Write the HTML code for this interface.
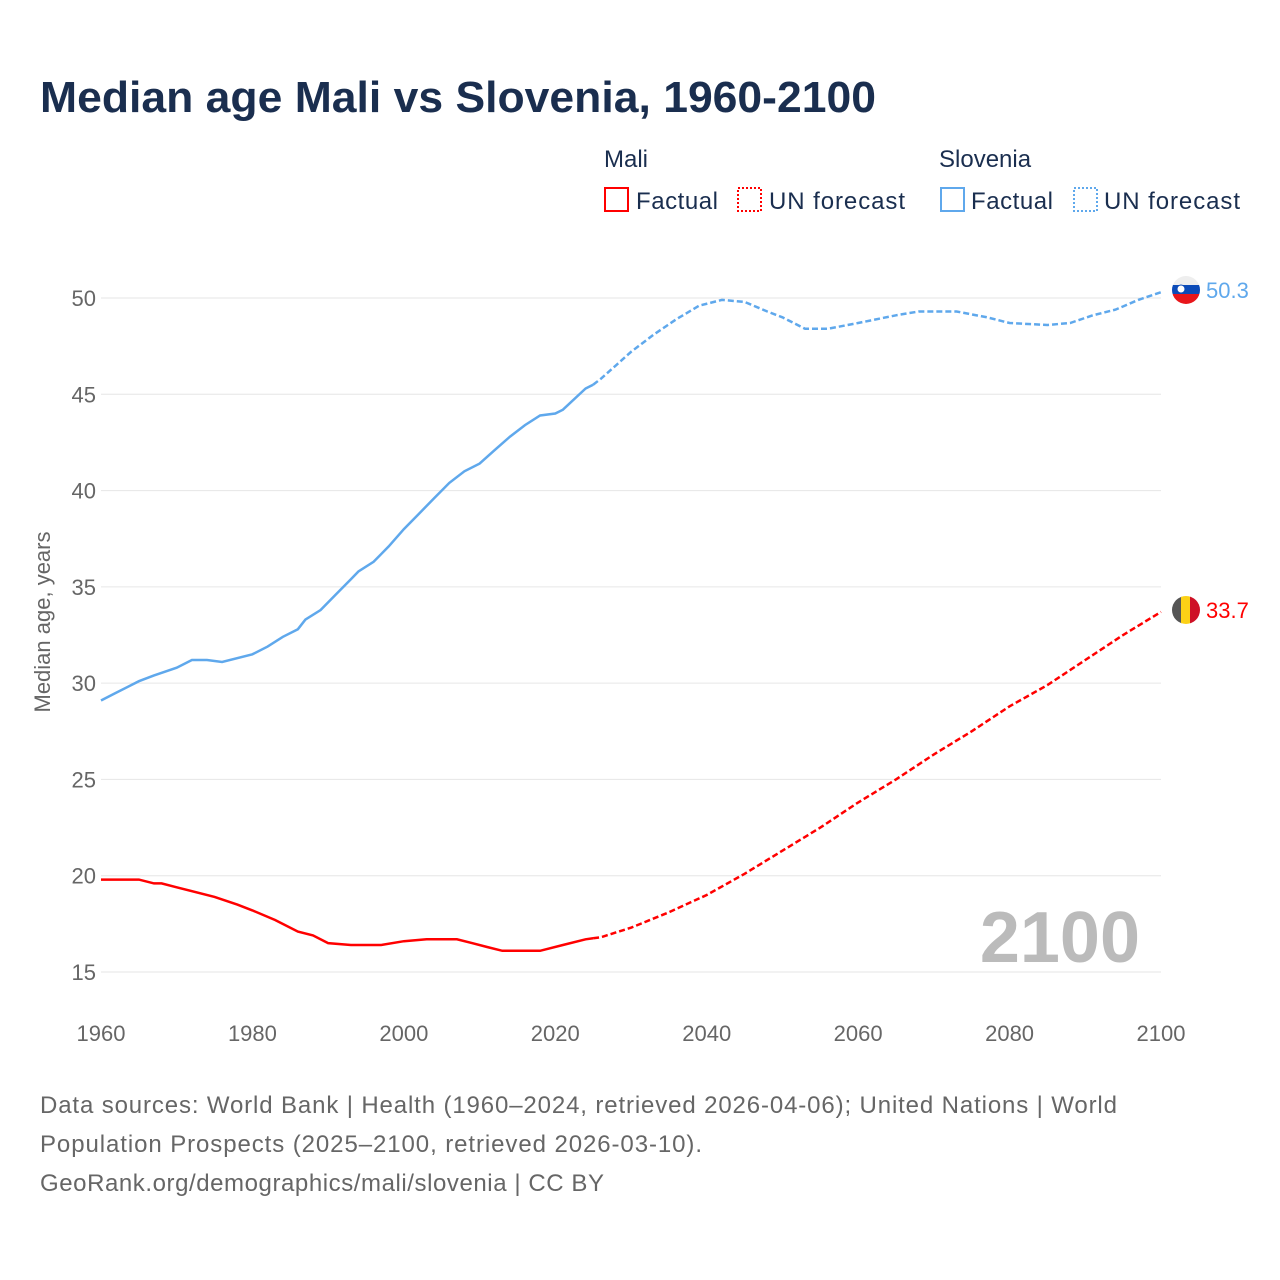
<!DOCTYPE html>
<html><head><meta charset="utf-8">
<style>
body{margin:0;background:#fff;font-family:"Liberation Sans",sans-serif;}
#c{position:relative;width:1280px;height:1280px;overflow:hidden;}
</style></head><body><div id="c">
<svg id="s" width="1280" height="1280" xmlns="http://www.w3.org/2000/svg" font-family="Liberation Sans, sans-serif">
<text x="40" y="112" font-size="44" font-weight="bold" fill="#1a2e4f" textLength="836" lengthAdjust="spacingAndGlyphs">Median age Mali vs Slovenia, 1960-2100</text>
<text x="604" y="167" font-size="24" fill="#1a2e4f">Mali</text>
<text x="939" y="167" font-size="24" fill="#1a2e4f">Slovenia</text>
<rect x="605" y="188" width="23" height="23" fill="none" stroke="#f00" stroke-width="2"/>
<text x="636" y="209" font-size="24" fill="#1a2e4f" textLength="82">Factual</text>
<rect x="738" y="188" width="23" height="23" fill="none" stroke="#f00" stroke-width="2" stroke-dasharray="2,2"/>
<text x="769" y="209" font-size="24" fill="#1a2e4f" textLength="136">UN forecast</text>
<rect x="941" y="188" width="23" height="23" fill="none" stroke="#5fa8ec" stroke-width="2"/>
<text x="971" y="209" font-size="24" fill="#1a2e4f" textLength="82">Factual</text>
<rect x="1074" y="188" width="23" height="23" fill="none" stroke="#5fa8ec" stroke-width="2" stroke-dasharray="2,2"/>
<text x="1104" y="209" font-size="24" fill="#1a2e4f" textLength="136">UN forecast</text>
<g id="grid"></g>
<text x="1140" y="962" font-size="72" font-weight="bold" fill="#bbb" text-anchor="end">2100</text>
<text transform="translate(50,622) rotate(-90)" font-size="22" fill="#666" text-anchor="middle">Median age, years</text>
<g id="lines"></g>
<circle cx="1186" cy="290" r="14" fill="#fff"/>
<clipPath id="cs"><circle cx="1186" cy="290" r="14"/></clipPath>
<g clip-path="url(#cs)"><rect x="1170" y="276" width="32" height="9" fill="#eee"/><rect x="1170" y="285" width="32" height="9" fill="#0c4bb8"/><rect x="1170" y="294" width="32" height="10" fill="#e8161b"/><circle cx="1181" cy="289" r="4" fill="#fff" stroke="#0c4bb8"/></g>
<clipPath id="cm"><circle cx="1186" cy="610" r="14"/></clipPath>
<g clip-path="url(#cm)"><rect x="1172" y="596" width="10" height="28" fill="#555"/><rect x="1181" y="596" width="10" height="28" fill="#fcd116"/><rect x="1190" y="596" width="10" height="28" fill="#ce1126"/></g>
<text x="1206" y="298" font-size="22" fill="#5fa8ec">50.3</text>
<text x="1206" y="618" font-size="22" fill="#f00">33.7</text>
<text x="40" y="1113" font-size="24" fill="#666" textLength="1077">Data sources: World Bank | Health (1960–2024, retrieved 2026-04-06); United Nations | World</text>
<text x="40" y="1152" font-size="24" fill="#666" textLength="662">Population Prospects (2025–2100, retrieved 2026-03-10).</text>
<text x="40" y="1191" font-size="24" fill="#666" textLength="564">GeoRank.org/demographics/mali/slovenia | CC BY</text>
</svg></div>
<script>
const X=y=>101+(y-1960)*1060/140, Y=v=>298+(50-v)*674/35;
let g='';
for(let v=15;v<=50;v+=5){g+=`<line x1="101" x2="1161" y1="${Y(v)}" y2="${Y(v)}" stroke="#e6e6e6"/><text x="96" y="${Y(v)+8}" font-size="22" fill="#666" text-anchor="end">${v}</text>`;}
for(let y=1960;y<=2100;y+=20)g+=`<text x="${X(y)}" y="1041" font-size="22" fill="#666" text-anchor="middle">${y}</text>`;
document.getElementById('grid').innerHTML=g;
const slo=[[1960,29.1],[1962,29.5],[1965,30.1],[1967,30.4],[1970,30.8],[1972,31.2],[1974,31.2],[1976,31.1],[1980,31.5],[1982,31.9],[1984,32.4],[1986,32.8],[1987,33.3],[1989,33.8],[1991,34.6],[1993,35.4],[1994,35.8],[1996,36.3],[1998,37.1],[2000,38.0],[2002,38.8],[2004,39.6],[2006,40.4],[2008,41.0],[2010,41.4],[2012,42.1],[2014,42.8],[2016,43.4],[2018,43.9],[2020,44.0],[2021,44.2],[2024,45.3],[2025,45.5],[2026,45.8],[2028,46.5],[2030,47.2],[2033,48.1],[2036,48.9],[2039,49.6],[2042,49.9],[2045,49.8],[2048,49.3],[2050,49.0],[2053,48.4],[2056,48.4],[2060,48.7],[2065,49.1],[2068,49.3],[2073,49.3],[2077,49.0],[2080,48.7],[2085,48.6],[2088,48.7],[2091,49.1],[2094,49.4],[2097,49.9],[2100,50.3]];
const mal=[[1960,19.8],[1965,19.8],[1967,19.6],[1968,19.6],[1970,19.4],[1975,18.9],[1978,18.5],[1980,18.2],[1983,17.7],[1986,17.1],[1988,16.9],[1990,16.5],[1993,16.4],[1997,16.4],[2000,16.6],[2003,16.7],[2007,16.7],[2009,16.5],[2011,16.3],[2013,16.1],[2018,16.1],[2021,16.4],[2024,16.7],[2025,16.75],[2026,16.8],[2030,17.3],[2035,18.1],[2040,19.0],[2045,20.1],[2050,21.3],[2055,22.5],[2060,23.8],[2065,25.0],[2070,26.3],[2075,27.5],[2080,28.8],[2085,29.9],[2090,31.2],[2095,32.5],[2100,33.7]];
function p(d,a,b){return 'M'+d.filter(q=>q[0]>=a&&q[0]<=b).map(q=>X(q[0]).toFixed(1)+','+Y(q[1]).toFixed(1)).join('L');}
let l='';
l+=`<path d="${p(slo,1960,2025)}" fill="none" stroke="#5fa8ec" stroke-width="2.5"/>`;
l+=`<path d="${p(slo,2025,2100)}" fill="none" stroke="#5fa8ec" stroke-width="2.5" stroke-dasharray="6,3"/>`;
l+=`<path d="${p(mal,1960,2025)}" fill="none" stroke="#f00" stroke-width="2.5"/>`;
l+=`<path d="${p(mal,2025,2100)}" fill="none" stroke="#f00" stroke-width="2.5" stroke-dasharray="6,3"/>`;
document.getElementById('lines').innerHTML=l;
</script>
</body></html>
